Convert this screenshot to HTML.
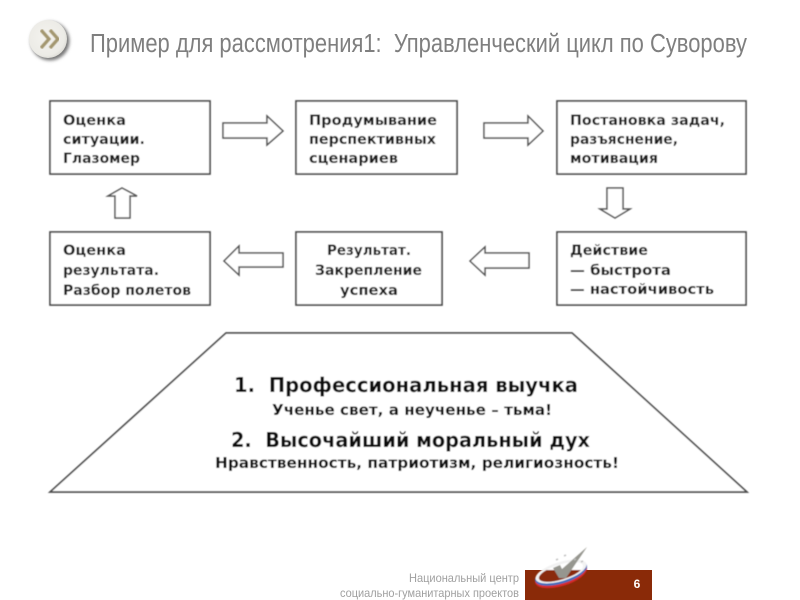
<!DOCTYPE html>
<html lang="ru">
<head>
<meta charset="utf-8">
<title>Управленческий цикл по Суворову</title>
<style>
html,body{margin:0;padding:0;background:#fff;width:800px;height:600px;overflow:hidden}
svg{display:block}
.t{font-family:"DejaVu Sans",sans-serif;font-weight:bold;font-size:14px;fill:#1c1c1c}
.b{font-family:"DejaVu Sans",sans-serif;font-weight:bold;font-size:20.5px;fill:#111}
.s{font-family:"DejaVu Sans",sans-serif;font-weight:bold;font-size:15px;fill:#111}
.f{font-family:"Liberation Sans",sans-serif;font-size:12px;fill:#a0a0a0}
</style>
</head>
<body>
<svg width="800" height="600" viewBox="0 0 800 600" xmlns="http://www.w3.org/2000/svg">
<defs>
<filter id="blur" x="-5%" y="-5%" width="110%" height="110%"><feGaussianBlur stdDeviation="0.4"/></filter>
<filter id="soft" x="-40%" y="-40%" width="180%" height="180%"><feGaussianBlur stdDeviation="1.6"/></filter>
<radialGradient id="c" cx="45%" cy="45%" r="60%"><stop offset="0" stop-color="#f4f3ef"/><stop offset="0.8" stop-color="#ecebe6"/><stop offset="1" stop-color="#d8d7d1"/></radialGradient>
<clipPath id="inner"><ellipse cx="561" cy="572" rx="23" ry="7.5" transform="rotate(-17 561 572)"/></clipPath>
</defs>

<circle cx="50" cy="41" r="19.5" fill="#777" filter="url(#soft)"/>
<circle cx="48" cy="39" r="19" fill="url(#c)"/>
<path d="M41 30l8 9-8 9M50 30l8 9-8 9" fill="none" stroke="#a39670" stroke-width="3.2" filter="url(#blur)"/>

<text x="90" y="52" font-family="Liberation Sans, sans-serif" font-size="25.5" fill="#7f7f7f" textLength="657" lengthAdjust="spacingAndGlyphs" xml:space="preserve">Пример для рассмотрения1:  Управленческий цикл по Суворову</text>

<g filter="url(#blur)">
<g fill="#fff" stroke="#4c4c4c" stroke-width="1.7">
<rect x="50" y="101" width="160" height="73"/>
<rect x="296" y="101" width="161" height="73"/>
<rect x="557" y="101" width="189" height="73"/>
<rect x="50" y="232" width="160" height="73"/>
<rect x="296" y="232" width="146" height="73"/>
<rect x="557" y="232" width="189" height="73"/>
</g>
<g fill="#fff" stroke="#555" stroke-width="1.5">
<polygon points="223,123 267,123 267,116 283,131 267,145 267,138 223,138"/>
<polygon points="484,123 528,123 528,116 543,131 528,145 528,138 484,138"/>
<polygon points="607,188 623,188 623,209 630,209 615,218 600,209 607,209"/>
<polygon points="122,188 137,196 130,196 130,218 115,218 115,196 108,196"/>
<polygon points="224,261 239,246 239,253 283,253 283,267 239,267 239,275"/>
<polygon points="470,261 485,247 485,253 529,253 529,268 485,268 485,275"/>
</g>
<polygon points="50,492 747,492 572,333 226,333" fill="#fff" stroke="#4c4c4c" stroke-width="1.7"/>

<text class="t" x="63" y="125" textLength="63" lengthAdjust="spacingAndGlyphs">Оценка</text>
<text class="t" x="63" y="144" textLength="82" lengthAdjust="spacingAndGlyphs">ситуации.</text>
<text class="t" x="63" y="163" textLength="77" lengthAdjust="spacingAndGlyphs">Глазомер</text>

<text class="t" x="309" y="125" textLength="128" lengthAdjust="spacingAndGlyphs">Продумывание</text>
<text class="t" x="309" y="144" textLength="127" lengthAdjust="spacingAndGlyphs">перспективных</text>
<text class="t" x="309" y="163" textLength="89" lengthAdjust="spacingAndGlyphs">сценариев</text>

<text class="t" x="570" y="125" textLength="155" lengthAdjust="spacingAndGlyphs">Постановка задач,</text>
<text class="t" x="570" y="144" textLength="108" lengthAdjust="spacingAndGlyphs">разъяснение,</text>
<text class="t" x="570" y="163" textLength="88" lengthAdjust="spacingAndGlyphs">мотивация</text>

<text class="t" x="63" y="255" textLength="63" lengthAdjust="spacingAndGlyphs">Оценка</text>
<text class="t" x="63" y="275" textLength="96" lengthAdjust="spacingAndGlyphs">результата.</text>
<text class="t" x="63" y="295" textLength="128" lengthAdjust="spacingAndGlyphs">Разбор полетов</text>

<text class="t" x="327" y="255" textLength="84" lengthAdjust="spacingAndGlyphs">Результат.</text>
<text class="t" x="315" y="275" textLength="107" lengthAdjust="spacingAndGlyphs">Закрепление</text>
<text class="t" x="340" y="295" textLength="58" lengthAdjust="spacingAndGlyphs">успеха</text>

<text class="t" x="570" y="255" textLength="78" lengthAdjust="spacingAndGlyphs">Действие</text>
<text class="t" x="570" y="275" textLength="101" lengthAdjust="spacingAndGlyphs">— быстрота</text>
<text class="t" x="570" y="294" textLength="144" lengthAdjust="spacingAndGlyphs">— настойчивость</text>

<text class="b" x="234" y="392" textLength="344" lengthAdjust="spacingAndGlyphs" xml:space="preserve">1.  Профессиональная выучка</text>
<text class="s" x="272" y="415" textLength="280" lengthAdjust="spacingAndGlyphs">Ученье свет, а неученье – тьма!</text>
<text class="b" x="231" y="447" textLength="359" lengthAdjust="spacingAndGlyphs" xml:space="preserve">2.  Высочайший моральный дух</text>
<text class="s" x="215" y="468" textLength="404" lengthAdjust="spacingAndGlyphs">Нравственность, патриотизм, религиозность!</text>
</g>

<rect x="525" y="570" width="127" height="30" fill="#8a2a08"/>
<g filter="url(#blur)">
<ellipse cx="561" cy="575" rx="27" ry="11" transform="rotate(-17 561 575)" fill="#d62a2a"/>
<ellipse cx="561" cy="573" rx="27" ry="10.5" transform="rotate(-17 561 573)" fill="#3f6cbb"/>
<ellipse cx="561" cy="571.5" rx="26.5" ry="9.5" transform="rotate(-17 561 571.5)" fill="#f2f2f2"/>
<g clip-path="url(#inner)">
<rect x="530" y="550" width="60" height="20" fill="#fff"/>
<rect x="530" y="570" width="60" height="20" fill="#8a2a08"/>
</g>
<path d="M553 568l7-3 2 4 25-22-21 31-7 0z" fill="#96968f"/>
<path d="M556 560l2-1M564 556l2-1M574 560l2-1M581 562l2-1" stroke="#bbb" stroke-width="1.5"/>
</g>
<text x="637" y="588" text-anchor="middle" font-family="Liberation Sans, sans-serif" font-weight="bold" font-size="12" fill="#fff">6</text>
<text class="f" x="519" y="582" text-anchor="end" textLength="110" lengthAdjust="spacingAndGlyphs">Национальный центр</text>
<text class="f" x="519" y="597" text-anchor="end" textLength="179" lengthAdjust="spacingAndGlyphs">социально-гуманитарных проектов</text>
</svg>
</body>
</html>
